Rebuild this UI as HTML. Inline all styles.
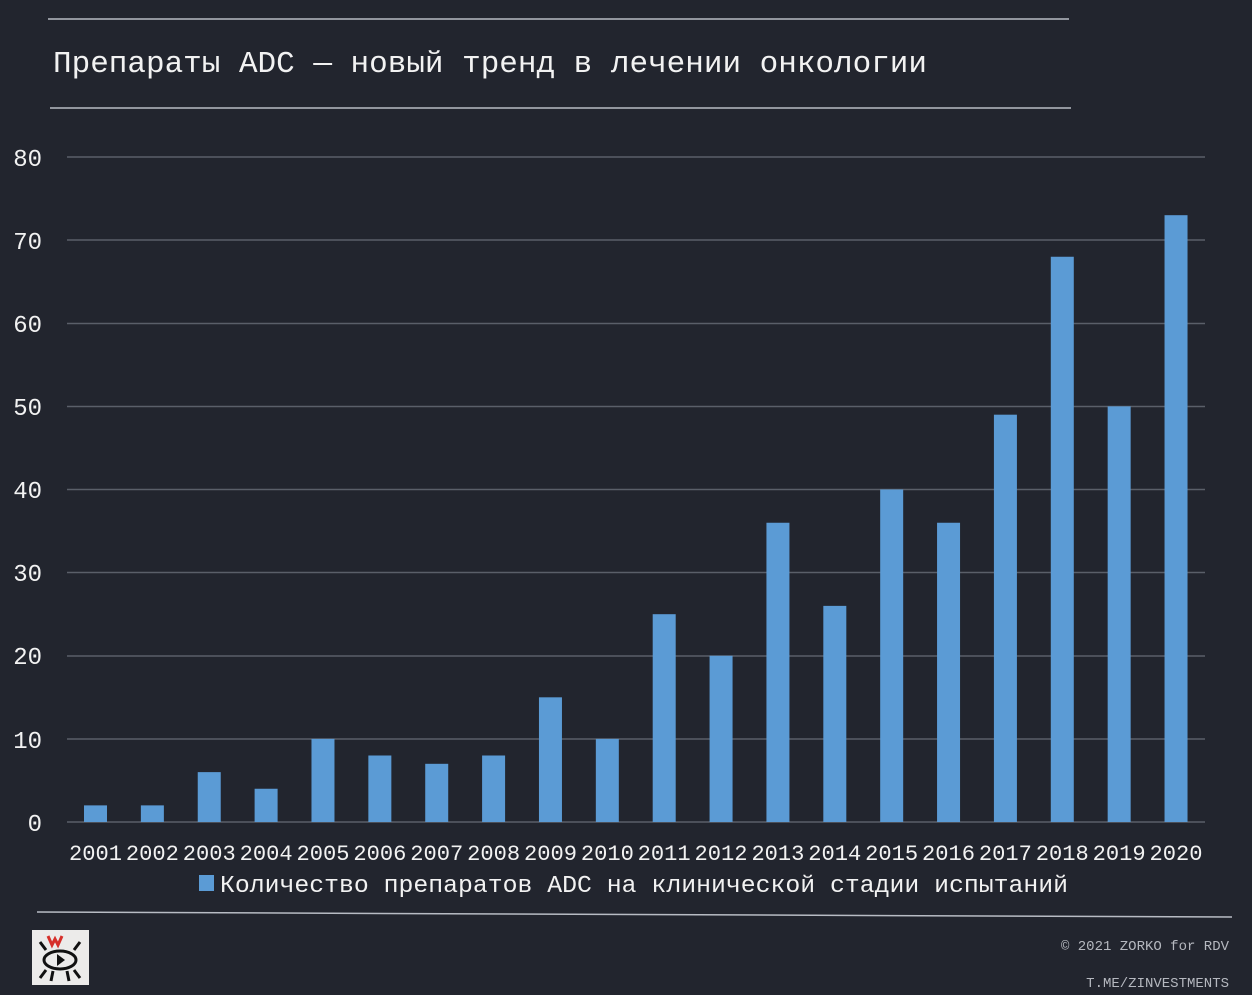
<!DOCTYPE html>
<html><head><meta charset="utf-8"><style>
html,body{margin:0;padding:0;background:#22252e;}
svg{display:block;}
text{font-family:"Liberation Mono","DejaVu Sans Mono",monospace;fill:#f2f2f2;}
</style></head><body>
<svg width="1252" height="995" viewBox="0 0 1252 995" xmlns="http://www.w3.org/2000/svg">
<rect width="1252" height="995" fill="#22252e"/>
<line x1="48" y1="19" x2="1069" y2="19" stroke="#b8bcc4" stroke-width="1.5"/>
<line x1="50" y1="108" x2="1071" y2="108" stroke="#b8bcc4" stroke-width="1.5"/>
<text x="53" y="72" font-size="31" textLength="874" lengthAdjust="spacingAndGlyphs">Препараты ADC — новый тренд в лечении онкологии</text>
<g stroke="#5a5f69" stroke-width="1.5">
<line x1="67" y1="157" x2="1205" y2="157"/>
<line x1="67" y1="240" x2="1205" y2="240"/>
<line x1="67" y1="323.5" x2="1205" y2="323.5"/>
<line x1="67" y1="406.5" x2="1205" y2="406.5"/>
<line x1="67" y1="489.5" x2="1205" y2="489.5"/>
<line x1="67" y1="572.5" x2="1205" y2="572.5"/>
<line x1="67" y1="656" x2="1205" y2="656"/>
<line x1="67" y1="739" x2="1205" y2="739"/>
<line x1="67" y1="822" x2="1205" y2="822"/>
</g>
<g font-size="24" text-anchor="end">
<text x="42" y="166">80</text><text x="42" y="249">70</text><text x="42" y="332">60</text>
<text x="42" y="415">50</text><text x="42" y="498">40</text><text x="42" y="581">30</text>
<text x="42" y="664">20</text><text x="42" y="748">10</text><text x="42" y="831">0</text>
</g>
<g id="bars" fill="#5b9bd5"></g>
<g id="yrs" font-size="22" text-anchor="middle"></g>
<rect x="199" y="875" width="15" height="16" fill="#5b9bd5"/>
<text x="220" y="892" font-size="24" textLength="848" lengthAdjust="spacingAndGlyphs">Количество препаратов ADC на клинической стадии испытаний</text>
<line x1="37" y1="912" x2="1232" y2="917" stroke="#b8bcc4" stroke-width="1.5"/>
<rect x="32" y="930" width="57" height="55" fill="#ecebea"/>
<path d="M48 936 l4 9 l3 -6 l3 6 l4 -9" stroke="#d6302b" stroke-width="3" fill="none"/>
<ellipse cx="60" cy="960" rx="16" ry="9" stroke="#111" stroke-width="3" fill="none"/>
<path d="M57 954 l8 6 l-8 6 z" fill="#111"/>
<g stroke="#111" stroke-width="3"><line x1="40" y1="942" x2="46" y2="950"/><line x1="80" y1="942" x2="74" y2="950"/><line x1="40" y1="978" x2="46" y2="970"/><line x1="80" y1="978" x2="74" y2="970"/><line x1="53" y1="971" x2="51" y2="981"/><line x1="67" y1="971" x2="69" y2="981"/></g>
<text x="1229" y="950" font-size="14" style="fill:#b5b8bf" text-anchor="end">© 2021 ZORKO for RDV</text>
<text x="1229" y="987" font-size="14" style="fill:#b5b8bf" text-anchor="end">T.ME/ZINVESTMENTS</text>
</svg>
<script>
var v=[2,2,6,4,10,8,7,8,15,10,25,20,36,26,40,36,49,68,50,73];
var b=document.getElementById('bars'),y=document.getElementById('yrs'),ns='http://www.w3.org/2000/svg';
v.forEach(function(d,i){var cx=95.5+56.87*i;var r=document.createElementNS(ns,'rect');
r.setAttribute('x',cx-11.5);r.setAttribute('width',23);r.setAttribute('y',822-d*8.3125);r.setAttribute('height',d*8.3125);b.appendChild(r);
var t=document.createElementNS(ns,'text');t.setAttribute('x',cx);t.setAttribute('y',860);t.setAttribute('textLength',53);t.setAttribute('lengthAdjust','spacingAndGlyphs');t.textContent=2001+i;y.appendChild(t);});
</script>
</body></html>
